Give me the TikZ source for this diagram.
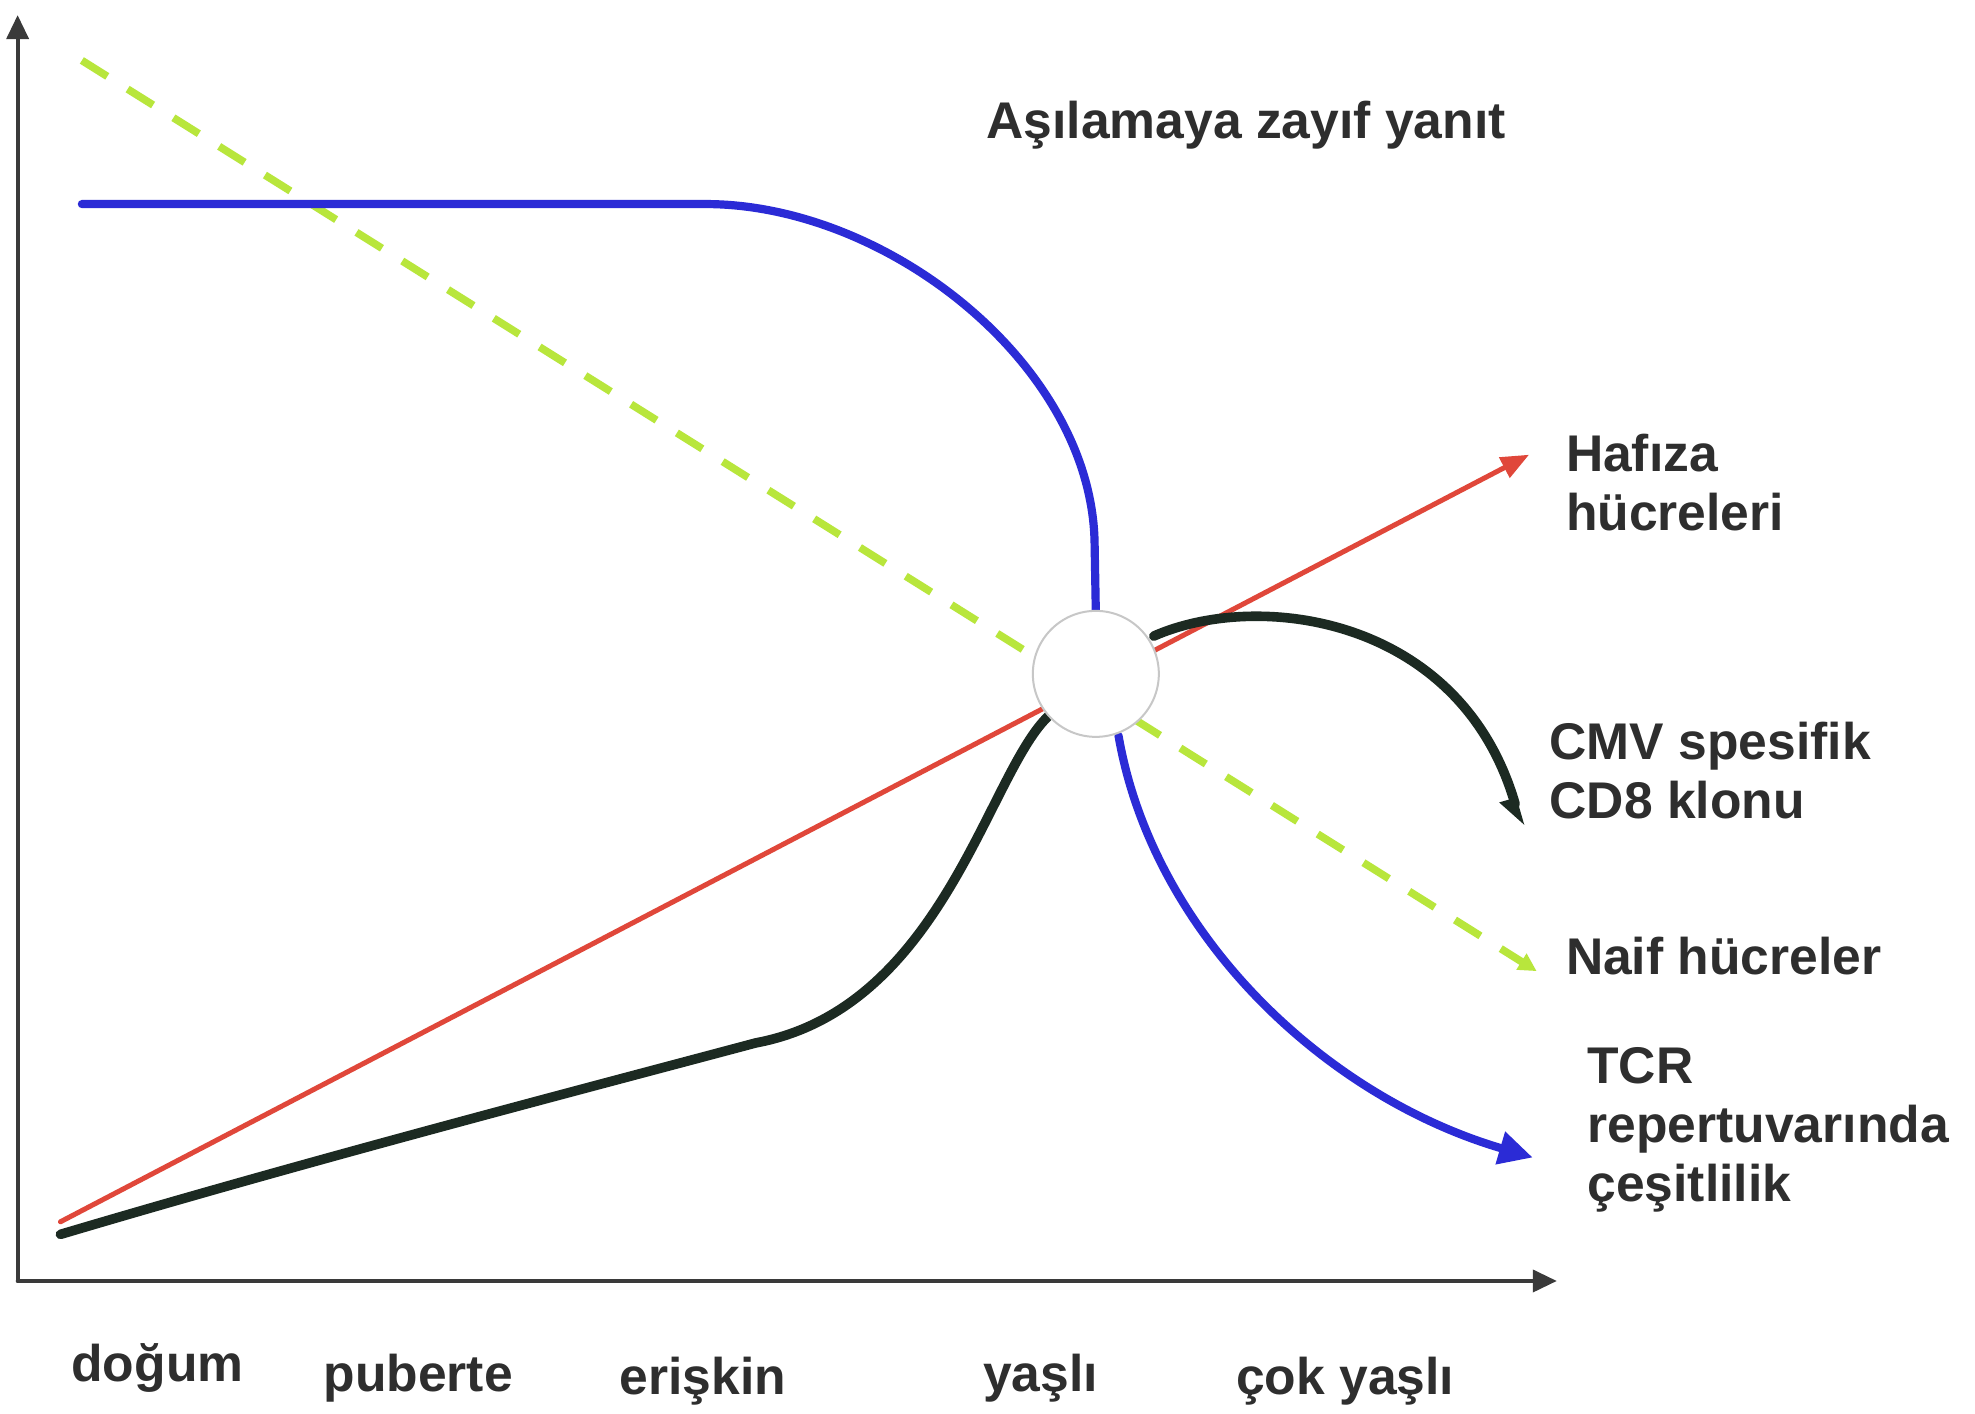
\documentclass[tikz,border=0pt]{standalone}
\usepackage{fontspec}
\setmainfont{Liberation Sans}
\usetikzlibrary{arrows.meta}
\definecolor{axisc}{HTML}{3A3A3A}
\definecolor{bluec}{HTML}{2B2BD6}
\definecolor{redc}{HTML}{E0473A}
\definecolor{greenc}{HTML}{B8E63C}
\definecolor{blackc}{HTML}{1C2A22}
\definecolor{txtc}{HTML}{2E2E2E}
\tikzset{
  lbl/.style={font=\bfseries\fontsize{25.8}{29.6}\selectfont, text=txtc, inner sep=0pt, align=left, anchor=base west},
  xlbl/.style={font=\bfseries\fontsize{25.8}{29.6}\selectfont, text=txtc, inner sep=0pt, anchor=base},
  axisline/.style={draw=axisc, line width=1.9pt, -{Triangle[length=12pt,width=11pt]}},
  bluecurve/.style={draw=bluec, line width=4.1pt},
  blackcurve/.style={draw=blackc, line width=4.8pt},
}
\begin{document}
\begin{tikzpicture}[x={(0.6298pt,0)}, y={(0,-0.6298pt)}, line cap=round]
\useasboundingbox[fill=white] (0,0) rectangle (1568,1122);
% axes
\coordinate (o) at (14,1017);
\coordinate (ytop) at (14,12);
\coordinate (xend) at (1236,1017);
\draw[axisline] (o) -- (ytop);
\draw[axisline] (o) -- (xend);
% key points
\coordinate (g0) at (65,48);
\coordinate (g1) at (1220,771);
\coordinate (r0) at (48,970);
\coordinate (r1) at (1214,361);
\coordinate (b0) at (65,162);
\coordinate (b1) at (560,162);
\coordinate (b2) at (869,430);
\coordinate (b3) at (870,486);
\coordinate (b4) at (888,584);
\coordinate (b5) at (1217,919);
\coordinate (k0) at (48,980);
\coordinate (k1) at (600,828);
\coordinate (k2) at (834,567);
\coordinate (k3) at (916,505);
\coordinate (k4) at (1208,656);
% green dashed
\draw[draw=greenc, line width=3.8pt, line cap=butt, dash pattern=on 15pt off 12pt,
  -{Triangle[length=9pt,width=9pt]}] (g0) -- (g1);
% red
\draw[draw=redc, line width=2.5pt, -{Triangle[length=14pt,width=11pt]}] (r0) -- (r1);
% blue
\draw[bluecurve] (b0) -- (b1) .. controls (705,162) and (866,290) .. (b2) -- (b3);
\draw[bluecurve, -{Triangle[length=17pt,width=16pt]}] (b4) .. controls (915,740) and (1050,870) .. (b5);
% black
\draw[blackcurve] (k0) .. controls (250,920) and (450,868) .. (k1) .. controls (750,800) and (785,610) .. (k2);
\draw[blackcurve, -{Triangle[length=12pt,width=14pt,harpoon,swap]}] (k3) .. controls (1000,468) and (1160,490) .. (k4);
% circle
\node[circle, draw=black!22, line width=1pt, fill=white, inner sep=0pt, minimum size=63pt] (c) at (870,535) {};
% labels
\node[lbl] (t0) at (783,110) {Aşılamaya zayıf yanıt};
\node[lbl] (t1) at (1243,421) {Hafıza\\hücreleri};
\node[lbl] (t2) at (1230,650) {CMV spesifik\\CD8 klonu};
\node[lbl] (t3) at (1243,774) {Naif hücreler};
\node[lbl] (t4) at (1260,954) {TCR\\repertuvarında\\çeşitlilik};
\node[xlbl] (x1) at (125,1097) {doğum};
\node[xlbl] (x2) at (332,1105) {puberte};
\node[xlbl] (x3) at (558,1107) {erişkin};
\node[xlbl] (x4) at (826,1105) {yaşlı};
\node[xlbl] (x5) at (1068,1107) {çok yaşlı};
\end{tikzpicture}
\end{document}
